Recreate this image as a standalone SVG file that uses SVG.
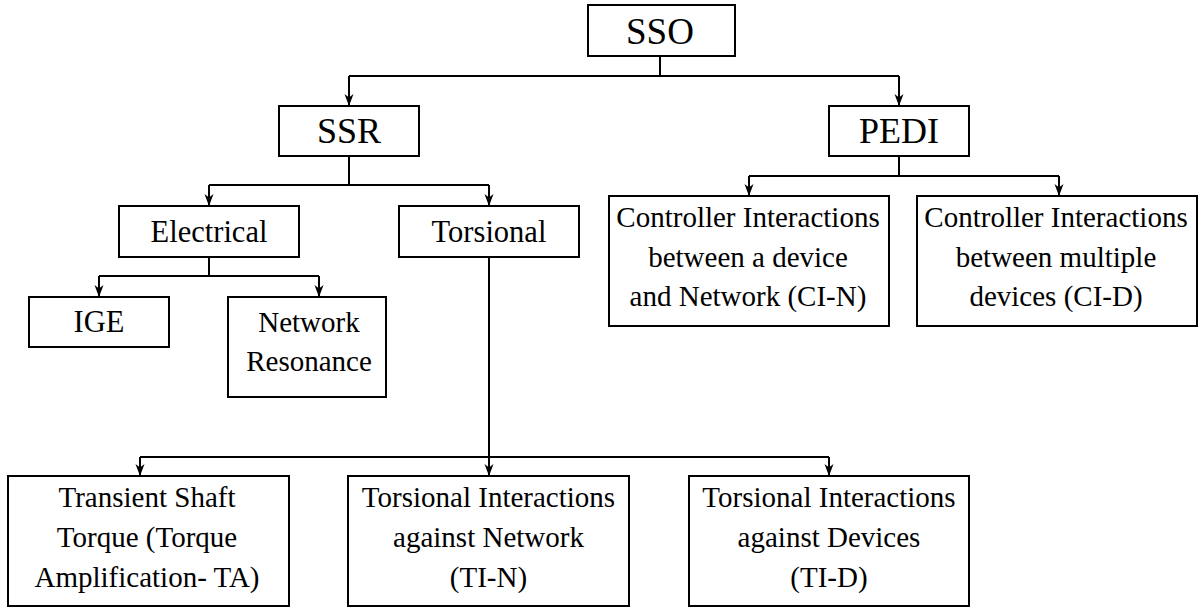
<svg xmlns="http://www.w3.org/2000/svg" width="1204" height="607" viewBox="0 0 1204 607">
<defs>
<marker id="arr" markerUnits="userSpaceOnUse" markerWidth="12" markerHeight="10" viewBox="0 0 12 10" refX="12" refY="5" orient="auto">
<path d="M0,0.5 L12,5 L0,9.5 L3.5,5 z" fill="#000"/>
</marker>
<style>
rect{fill:#fff;stroke:#000;stroke-width:2}
text{font-family:'Liberation Serif','Times New Roman',serif;fill:#000;text-anchor:middle}
.l0{font-size:37px}
.l1{font-size:36px}
.l2{font-size:30.5px}
.l3{font-size:29px}
.c{fill:none;stroke:#000;stroke-width:2}
.a{fill:none;stroke:#000;stroke-width:2;marker-end:url(#arr)}
</style>
</defs>
<rect x="0" y="0" width="1204" height="607" style="fill:#fff;stroke:none"/>
<g id="connectors">
<path class="c" d="M660,56 V76 M349,76 H899"/>
<path class="a" d="M349,76 V106"/>
<path class="a" d="M899,76 V106"/>
<path class="c" d="M349,156 V185 M209,185 H489"/>
<path class="a" d="M209,185 V206"/>
<path class="a" d="M489,185 V206"/>
<path class="c" d="M899,156 V176 M749,176 H1059"/>
<path class="a" d="M749,176 V196"/>
<path class="a" d="M1059,176 V196"/>
<path class="c" d="M209,257 V276 M99,276 H319"/>
<path class="a" d="M99,276 V297"/>
<path class="a" d="M319,276 V297"/>
<path class="c" d="M140,457 H829"/>
<path class="a" d="M489,257 V476"/>
<path class="a" d="M140,457 V476"/>
<path class="a" d="M829,457 V476"/>
</g>
<g id="sso"><rect x="588" y="5" width="147" height="51"/><text class="l0" x="660" y="44">SSO</text></g>
<g id="ssr"><rect x="279" y="106" width="140" height="50"/><text class="l1" x="349" y="143">SSR</text></g>
<g id="pedi"><rect x="829" y="106" width="140" height="50"/><text class="l1" x="899" y="143">PEDI</text></g>
<g id="electrical"><rect x="119" y="206" width="180" height="51"/><text class="l2" x="209" y="242">Electrical</text></g>
<g id="torsional"><rect x="399" y="206" width="180" height="51"/><text class="l2" x="489" y="242">Torsional</text></g>
<g id="ige"><rect x="29" y="297" width="140" height="50"/><text class="l2" x="99" y="332">IGE</text></g>
<g id="network-resonance"><rect x="228" y="297" width="158" height="100"/><text class="l3" x="309" y="332">Network</text><text class="l3" x="309" y="371">Resonance</text></g>
<g id="ci-n"><rect x="609" y="196" width="280" height="130"/><text class="l3" x="748" y="227">Controller Interactions</text><text class="l3" x="748" y="266.5">between a device</text><text class="l3" x="748" y="306">and Network (CI-N)</text></g>
<g id="ci-d"><rect x="917" y="196" width="280" height="130"/><text class="l3" x="1056" y="227">Controller Interactions</text><text class="l3" x="1056" y="266.5">between multiple</text><text class="l3" x="1056" y="306">devices (CI-D)</text></g>
<g id="ta"><rect x="8" y="476" width="281" height="130"/><text class="l3" x="147" y="507">Transient Shaft</text><text class="l3" x="147" y="547">Torque (Torque</text><text class="l3" x="147" y="587">Amplification- TA)</text></g>
<g id="ti-n"><rect x="348" y="476" width="281" height="130"/><text class="l3" x="488.5" y="507">Torsional Interactions</text><text class="l3" x="488.5" y="547">against Network</text><text class="l3" x="488.5" y="587">(TI-N)</text></g>
<g id="ti-d"><rect x="689" y="476" width="280" height="130"/><text class="l3" x="829" y="507">Torsional Interactions</text><text class="l3" x="829" y="547">against Devices</text><text class="l3" x="829" y="587">(TI-D)</text></g>
</svg>
